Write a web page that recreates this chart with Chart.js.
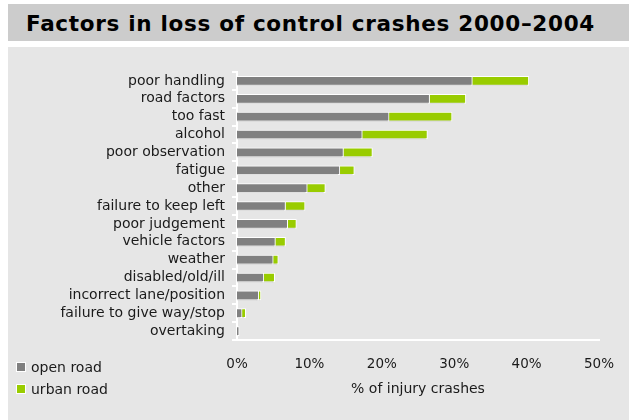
<!DOCTYPE html>
<html>
<head>
<meta charset="utf-8">
<script src="https://cdn.jsdelivr.net/npm/chart.js@4.4.1/dist/chart.umd.min.js"></script>
<style>
  html, body { margin: 0; padding: 0; background: #fff; }
  #page { position: relative; width: 629px; height: 420px; overflow: hidden; }
  #titleBar {
    position: absolute; left: 8px; top: 4px; width: 621px; height: 37px;
    background: #cccccc; font-family: "DejaVu Sans", sans-serif; font-weight: bold;
    font-size: 21.5px; letter-spacing: 0.7px; line-height: 39px; padding-left: 18px;
    box-sizing: border-box; color: #000; white-space: nowrap;
  }
  #panel { position: absolute; left: 8px; top: 47px; width: 621px; height: 373px; background: #e6e6e6; }
  #chartWrap { position: absolute; left: 0; top: 0; width: 629px; height: 420px; }
</style>
</head>
<body>
<div id="page">
  <div id="titleBar">Factors in loss of control crashes 2000–2004</div>
  <div id="panel"></div>
  <div id="chartWrap"><canvas id="crashChart" width="629" height="420"></canvas></div>
</div>
<script>
const factors = [
  "poor handling", "road factors", "too fast", "alcohol", "poor observation",
  "fatigue", "other", "failure to keep left", "poor judgement", "vehicle factors",
  "weather", "disabled/old/ill", "incorrect lane/position", "failure to give way/stop", "overtaking"
];
const openRoad  = [32.5, 26.6, 21.0, 17.3, 14.7, 14.2, 9.7, 6.7, 7.0, 5.3, 5.0, 3.7, 3.0, 0.7, 0.3];
const urbanRoad = [7.8, 5.0, 8.7, 9.0, 4.0, 2.0, 2.5, 2.7, 1.2, 1.4, 0.7, 1.5, 0.3, 0.5, 0];
const xTicks = [0, 10, 20, 30, 40, 50];

const labelFont = { family: "DejaVu Sans", size: 14 };
const textColor = "#1a1a1a";

// legend stacked in the bottom-left corner of the panel
const cornerLegend = {
  id: "cornerLegend",
  afterDraw(chart) {
    const ctx = chart.ctx;
    ctx.save();
    ctx.font = "14px 'DejaVu Sans'";
    ctx.textBaseline = "middle";
    chart.data.datasets.forEach((ds, i) => {
      const y = 367 + i * 22;
      ctx.fillStyle = "#fff";
      ctx.fillRect(16, y - 5, 10, 10);
      ctx.fillStyle = ds.backgroundColor;
      ctx.fillRect(17, y - 4, 8, 8);
      ctx.fillStyle = textColor;
      ctx.fillText(ds.label, 31, y + 1);
    });
    ctx.restore();
  }
};

// soft drop shadow under the bars
const barShadow = {
  id: "barShadow",
  beforeDatasetsDraw(chart) {
    chart.ctx.save();
    chart.ctx.shadowColor = "rgba(0,0,0,0.12)";
    chart.ctx.shadowOffsetX = -1;
    chart.ctx.shadowOffsetY = 2;
  },
  afterDatasetsDraw(chart) {
    chart.ctx.restore();
  }
};

new Chart(document.getElementById("crashChart"), {
  type: "bar",
  data: {
    labels: factors,
    datasets: [
      { label: "open road", data: openRoad, backgroundColor: "#808080", borderColor: "#ffffff", borderWidth: 1, barThickness: 9 },
      { label: "urban road", data: urbanRoad, backgroundColor: "#99cc00", borderColor: "#ffffff", borderWidth: 1, barThickness: 9 }
    ]
  },
  options: {
    indexAxis: "y",
    responsive: false,
    animation: false,
    layout: { padding: { left: 0, top: 72, right: 30, bottom: 0 } },
    plugins: { legend: { display: false }, tooltip: { enabled: false } },
    scales: {
      x: {
        stacked: true,
        min: 0, max: 50,
        afterBuildTicks: s => { s.ticks = xTicks.map(v => ({ value: v })); },
        afterFit: s => { s.height = 80; },
        grid: { display: false },
        border: { display: true, color: "#ffffff", width: 2 },
        ticks: { padding: 8, color: textColor, font: { family: "DejaVu Sans", size: 13.5 }, callback: v => v + "%" },
        title: { display: true, text: "% of injury crashes", color: textColor, font: { family: "DejaVu Sans", size: 14 }, padding: { top: 4, bottom: 22 } }
      },
      y: {
        stacked: true,
        afterFit: s => { s.width = 237; },
        grid: { display: true, drawOnChartArea: false, color: "#ffffff", lineWidth: 2, tickLength: 5, offset: true },
        border: { display: true, color: "#ffffff", width: 2 },
        ticks: { autoSkip: false, padding: 7, color: textColor, font: labelFont }
      }
    }
  },
  plugins: [barShadow, cornerLegend]
});
</script>
</body>
</html>
